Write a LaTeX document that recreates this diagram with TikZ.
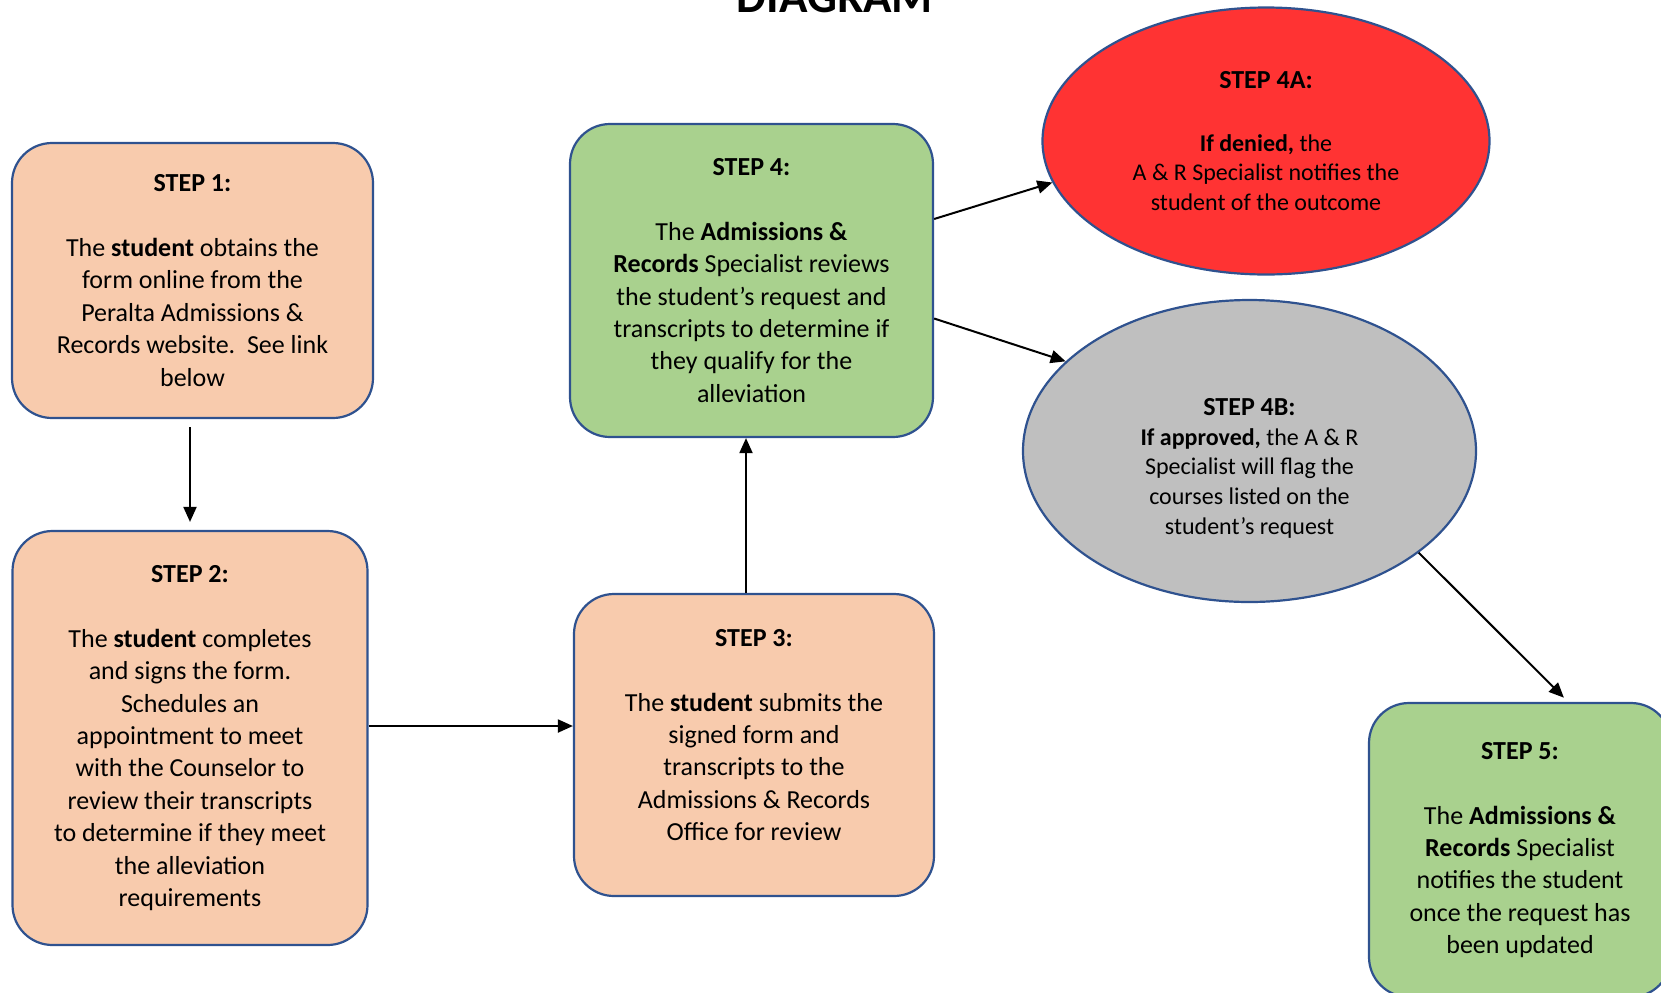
\documentclass[tikz,border=0pt]{standalone}
\usepackage{fontspec}
\setmainfont{Carlito}
\usetikzlibrary{shapes.geometric, arrows.meta, positioning}
\definecolor{naranja}{HTML}{F8CBAD}
\definecolor{verde}{HTML}{A9D18E}
\definecolor{rojo}{HTML}{FF3333}
\definecolor{gris}{HTML}{BFBFBF}
\definecolor{borde}{HTML}{2F528F}
\begin{document}
\begin{tikzpicture}[
  x = 0.5pt, y = -0.5pt,
  caja/.style = {draw = borde, line width = 1.1pt, rounded corners = 20pt, align = center,
    inner sep = 0pt, font = \fontsize{13}{16.2}\selectfont},
  ovalo/.style = {ellipse, draw = borde, line width = 1.1pt, align = center, inner sep = 0pt,
    font = \fontsize{12}{14.8}\selectfont},
  flecha/.style = {-{Triangle[length = 7.5pt, width = 6.5pt]}, line width = 1pt}
]
\useasboundingbox (0, 0) rectangle (1661, 992);
\clip (0, 0) rectangle (1661, 992);
\node[anchor = base, font = \fontsize{23.5}{28}\selectfont\bfseries] (titulo) at (835, 12) {DIAGRAM};
% pasos
\node[caja, fill = naranja, minimum width = 180.5pt, minimum height = 137.5pt] (s1) at (192.5, 280.5)
  {\textbf{STEP 1:}\\[16.2pt] The \textbf{student} obtains the\\ form online from the\\
   Peralta Admissions \&\\ Records website.\ \ See link\\ below};
\node[caja, fill = naranja, minimum width = 177.5pt, minimum height = 207pt] (s2) at (190, 738)
  {\textbf{STEP 2:}\\[16.2pt] The \textbf{student} completes\\ and signs the form.\\ Schedules an\\
   appointment to meet\\ with the Counselor to\\ review their transcripts\\ to determine if they meet\\
   the alleviation\\ requirements};
\node[caja, fill = naranja, minimum width = 180pt, minimum height = 151pt] (s3) at (754, 745)
  {\textbf{STEP 3:}\\[16.2pt] The \textbf{student} submits the\\ signed form and\\ transcripts to the\\
   Admissions \& Records\\ Office for review\\[-6.2pt]};
\node[caja, fill = verde, minimum width = 181.5pt, minimum height = 156.5pt] (s4) at (751.5, 280.5)
  {\textbf{STEP 4:}\\[16.2pt] The \textbf{Admissions \&}\\ \textbf{Records} Specialist reviews\\
   the student’s request and\\ transcripts to determine if\\ they qualify for the\\ alleviation};
\node[ovalo, fill = rojo, minimum width = 223.5pt, minimum height = 133.5pt] (s4a) at (1266, 141)
  {{\fontsize{13}{14.8}\selectfont\bfseries STEP 4A:}\\[16.5pt] \textbf{If denied,} the\\
   A \& R Specialist notifies the\\ student of the outcome};
\node[ovalo, fill = gris, minimum width = 226.5pt, minimum height = 151pt] (s4b) at (1249.5, 451)
  {\mbox{}\\[11pt]{\fontsize{13}{14.8}\selectfont\bfseries STEP 4B:}\\ \textbf{If approved,} the A \& R\\
   Specialist will flag the\\ courses listed on the\\ student’s request};
\node[caja, fill = verde, minimum width = 151pt, minimum height = 147pt] (s5) at (1520, 850)
  {\textbf{STEP 5:}\\[16.2pt] The \textbf{Admissions \&}\\ \textbf{Records} Specialist\\
   notifies the student\\ once the request has\\ been updated};
% flechas
\draw[flecha, shorten < = 4pt, shorten > = 4pt] (s2.north |- s1.south) -- (s2.north);
\draw[flecha] ([yshift = 6pt]s2.east) -- ([yshift = 6pt]s2.east -| s3.west);
\draw[flecha] ([xshift = -4pt]s3.north) -- ([xshift = -4pt]s3.north |- s4.south);
\draw[flecha] ([yshift = 30.75pt]s4.east) -- (s4a.191);
\draw[flecha] ([yshift = -19pt]s4.east) -- (s4b.154);
\draw[flecha, shorten > = 3pt] (s4b.-31) -- (s5.72);
\end{tikzpicture}
\end{document}
